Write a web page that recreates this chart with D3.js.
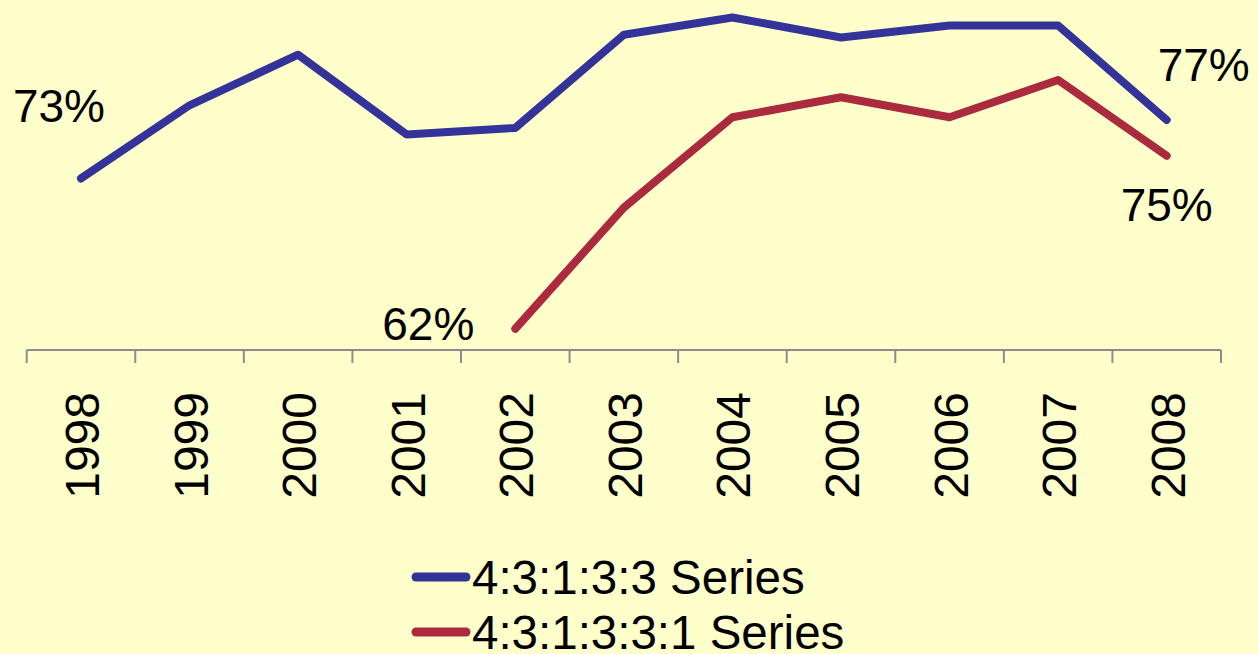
<!DOCTYPE html>
<html lang="en">
<head>
    <meta charset="UTF-8">
    <title>Series line chart</title>
    <style>
        html, body {
            margin: 0;
            padding: 0;
            background: #ffffcc;
        }
        text {
            font-family: "Liberation Sans", Arial, sans-serif;
            fill: #000;
        }
        .axis-line {
            stroke: #8c8c8c;
            stroke-width: 2px;
        }
    </style>
</head>
<body>
    <svg id="chart" width="1258" height="654"></svg>

    <script src="https://d3js.org/d3.v7.min.js"></script>
    <script>
        const years = ["1998", "1999", "2000", "2001", "2002", "2003", "2004", "2005", "2006", "2007", "2008"];
        const seriesNames = ["4:3:1:3:3 Series", "4:3:1:3:3:1 Series"];
        const colors = ["#333399", "#ab2a3e"];
        // values in percent, null where no data
        const series433 = [72.9, 78.4, 82.2, 76.2, 76.7, 83.7, 85.0, 83.5, 84.4, 84.4, 77.3];
        const series4331 = [null, null, null, null, 61.6, 70.7, 77.5, 79.0, 77.5, 80.3, 74.6];

        const svg = d3.select("#chart");

        const x = d3.scaleBand()
            .domain(years)
            .range([26.7, 1221])
            .padding(0);

        const y = d3.scaleLinear()
            .domain([60, 85])
            .range([350, 17.5]);

        const cx = d => x(d) + x.bandwidth() / 2;

        // category axis
        svg.append("line")
            .attr("class", "axis-line")
            .attr("x1", x.range()[0])
            .attr("x2", x.range()[1])
            .attr("y1", y(60))
            .attr("y2", y(60));

        const tickPos = years.map(d => x(d)).concat([x.range()[1]]);
        svg.selectAll(".tick")
            .data(tickPos)
            .enter().append("line")
            .attr("class", "axis-line")
            .attr("x1", d => d)
            .attr("x2", d => d)
            .attr("y1", y(60))
            .attr("y2", y(60) + 13);

        svg.selectAll(".year")
            .data(years)
            .enter().append("text")
            .attr("class", "year")
            .attr("transform", d => `translate(${cx(d) + 18}, 392) rotate(-90)`)
            .attr("text-anchor", "end")
            .style("font-size", "48px")
            .text(d => d);

        // lines
        const line = d3.line()
            .defined(d => d.v !== null)
            .x(d => cx(d.year))
            .y(d => y(d.v));

        [series433, series4331].forEach((vals, i) => {
            const pts = years.map((yr, j) => ({ year: yr, v: vals[j] }));
            svg.append("path")
                .datum(pts)
                .attr("fill", "none")
                .attr("stroke", colors[i])
                .attr("stroke-width", 8)
                .attr("stroke-linejoin", "round")
                .attr("stroke-linecap", "round")
                .attr("d", line);
        });

        // end labels
        const fmt = v => Math.round(v) + "%";
        const labels = [
            { year: "1998", v: series433[0], dx: -22, dy: -56 },
            { year: "2008", v: series433[10], dx: 37, dy: -39 },
            { year: "2002", v: series4331[4], dx: -87, dy: 11 },
            { year: "2008", v: series4331[10], dx: 0, dy: 65 }
        ];
        svg.selectAll(".val")
            .data(labels)
            .enter().append("text")
            .attr("class", "val")
            .attr("x", d => cx(d.year) + d.dx)
            .attr("y", d => y(d.v) + d.dy)
            .attr("text-anchor", "middle")
            .style("font-size", "46px")
            .text(d => fmt(d.v));

        // legend
        const legend = svg.append("g").attr("transform", "translate(412, 577)");
        seriesNames.forEach((name, i) => {
            const g = legend.append("g").attr("transform", `translate(0, ${i * 55})`);
            g.append("line")
                .attr("x1", 4).attr("x2", 54)
                .attr("y1", 0).attr("y2", 0)
                .attr("stroke", colors[i])
                .attr("stroke-width", 9)
                .attr("stroke-linecap", "round");
            g.append("text")
                .attr("x", 60)
                .attr("y", 17)
                .style("font-size", "47.5px")
                .text(name);
        });
    </script>
</body>
</html>
